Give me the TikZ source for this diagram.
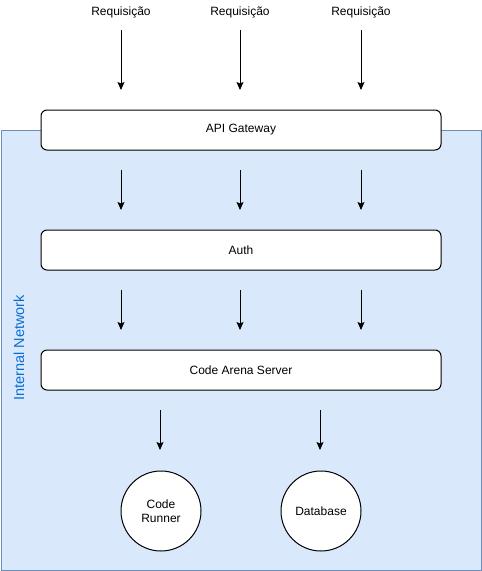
\documentclass[tikz,border=0pt]{standalone}
\usepackage{fontspec}
\setmainfont{Liberation Sans}
\usetikzlibrary{arrows.meta}
\definecolor{netfill}{HTML}{DAE8FC}
\definecolor{netline}{HTML}{6C8EBF}
\definecolor{nettext}{HTML}{0A6ED1}
\begin{document}
\begin{tikzpicture}[x=1pt,y=-1pt,
  lbl/.style={font=\fontsize{12}{14}\selectfont, inner sep=0pt},
  box/.style={draw=black, fill=white, rounded corners=6pt, line width=1pt,
    minimum width=400pt, minimum height=40pt, inner sep=0pt,
    font=\fontsize{12}{14}\selectfont},
  circ/.style={draw=black, fill=white, circle, line width=1pt,
    minimum size=80pt, inner sep=0pt, align=center,
    font=\fontsize{12}{14}\selectfont},
  arr/.style={draw=black, line width=1pt, -{Stealth[length=8pt,width=7pt,inset=1.5pt]}}
]
\useasboundingbox (0,0) rectangle (482,571);
\node[draw=netline, fill=netfill, line width=1pt, minimum width=480pt, minimum height=440pt, inner sep=0pt, anchor=north west] (net) at (1,130) {};
\node[rotate=90, font=\fontsize{14.5}{16}\selectfont, text=nettext, inner sep=0pt] (netlbl) at (19,348) {Internal Network};

\node[lbl] (r1) at (121,12) {Requisição};
\node[lbl] (r2) at (240,12) {Requisição};
\node[lbl] (r3) at (361,12) {Requisição};

\node[box] (api) at (241,130) {\raisebox{-1.5pt}{API Gateway}};
\node[box] (auth) at (241,250) {\raisebox{-1.5pt}{Auth}};
\node[box] (srv) at (241,370) {\raisebox{-1.5pt}{Code Arena Server}};
\node[circ] (runner) at (161,511) {Code\\Runner};
\node[circ] (db) at (321,511) {Database};

\foreach \x/\n in {121/a,240/b,361/c}{
  \coordinate (s1\n) at (\x,30); \coordinate (e1\n) at (\x,90);
  \coordinate (s2\n) at (\x,170); \coordinate (e2\n) at (\x,210);
  \coordinate (s3\n) at (\x,290); \coordinate (e3\n) at (\x,330);
  \draw[arr] (s1\n) -- (e1\n);
  \draw[arr] (s2\n) -- (e2\n);
  \draw[arr] (s3\n) -- (e3\n);
}
\coordinate (s4a) at (160,410); \coordinate (e4a) at (160,450);
\coordinate (s4b) at (320,410); \coordinate (e4b) at (320,450);
\draw[arr] (s4a) -- (e4a);
\draw[arr] (s4b) -- (e4b);
\end{tikzpicture}
\end{document}
